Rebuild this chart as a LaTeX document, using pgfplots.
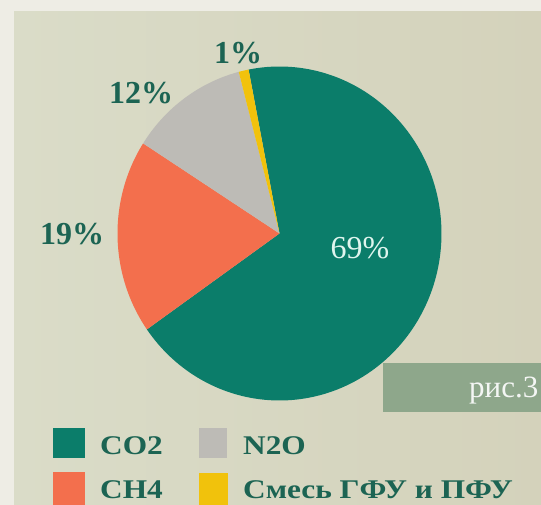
\documentclass[border=0pt]{standalone}
\usepackage{fontspec}
\setmainfont{Liberation Serif}
\newfontfamily\legfont[FakeStretch=1.16]{Liberation Serif}
\usepackage{pgfplots}
\usepackage{pgfplotstable}
\pgfplotsset{compat=1.18}

\definecolor{cgreen}{HTML}{0B7D6A}
\definecolor{corange}{HTML}{F36F4D}
\definecolor{cgray}{HTML}{BDBBB6}
\definecolor{cyellow}{HTML}{F1C20C}
\definecolor{ctext}{HTML}{1C6453}
\definecolor{cwhite}{HTML}{DFF5EE}
\definecolor{bgout}{HTML}{EEEDE5}
\definecolor{bgleft}{HTML}{DADCC8}
\definecolor{bgright}{HTML}{D4D2BB}
\definecolor{cbox}{HTML}{8EA78B}

\pgfplotstableread{
gas value
CO2 69
CH4 19
N2O 12
Mix 1
}\gases

\begin{document}
\begin{tikzpicture}
\pgfplotstablegetelem{0}{value}\of\gases \pgfmathsetmacro\vA{\pgfplotsretval}
\pgfplotstablegetelem{1}{value}\of\gases \pgfmathsetmacro\vB{\pgfplotsretval}
\pgfplotstablegetelem{2}{value}\of\gases \pgfmathsetmacro\vC{\pgfplotsretval}
\pgfplotstablegetelem{3}{value}\of\gases \pgfmathsetmacro\vD{\pgfplotsretval}
\pgfmathsetmacro\tot{\vA+\vB+\vC+\vD}
\pgfmathsetmacro\aA{101}
\pgfmathsetmacro\aB{\aA-360/\tot*\vA}
\pgfmathsetmacro\aC{\aB-360/\tot*\vB}
\pgfmathsetmacro\aD{\aC-360/\tot*\vC}
\pgfmathsetmacro\aE{\aD-360/\tot*\vD}
\begin{axis}[at={(0,0)}, anchor=south west, width=541pt, height=505pt,
  scale only axis, xmin=0, xmax=541, ymin=0, ymax=505, hide axis, clip=false]
\fill[bgout] (axis cs:0,0) rectangle (axis cs:541,505);
\shade[left color=bgleft, right color=bgright] (axis cs:14,0) rectangle (axis cs:541,493);
\addplot[fill=cgreen, draw=none, domain=\aB:\aA, samples=150]
  ({279.5+162*cos(x)},{271.5+167*sin(x)}) -- (axis cs:279.5,271.5) -- cycle;
\addplot[fill=corange, draw=none, domain=\aC:\aB, samples=60]
  ({279.5+162*cos(x)},{271.5+167*sin(x)}) -- (axis cs:279.5,271.5) -- cycle;
\addplot[fill=cgray, draw=none, domain=\aD:\aC, samples=40]
  ({279.5+162*cos(x)},{271.5+167*sin(x)}) -- (axis cs:279.5,271.5) -- cycle;
\addplot[fill=cyellow, draw=none, domain=\aE:\aD, samples=8]
  ({279.5+162*cos(x)},{271.5+167*sin(x)}) -- (axis cs:279.5,271.5) -- cycle;
% percentage labels
\node[text=ctext, font=\bfseries\fontsize{32}{32}\selectfont, inner sep=0] at (axis cs:238,452) {1\%};
\node[text=ctext, font=\bfseries\fontsize{32}{32}\selectfont, inner sep=0] at (axis cs:141,412) {12\%};
\node[text=ctext, font=\bfseries\fontsize{32}{32}\selectfont, inner sep=0] at (axis cs:72,271) {19\%};
\node[text=cwhite, font=\fontsize{32}{32}\selectfont, inner sep=0] at (axis cs:360,257) {69\%};
% figure tag
\fill[cbox] (axis cs:383,93) rectangle (axis cs:541,142);
\node[text=white!90!cbox, font=\fontsize{31}{31}\selectfont, inner sep=0, anchor=base west] at (axis cs:469,107) {рис.3};
% legend
\fill[cgreen] (axis cs:53,47) rectangle (axis cs:85,77);
\fill[corange] (axis cs:53,0) rectangle (axis cs:85,33);
\fill[cgray] (axis cs:199,47) rectangle (axis cs:227,77);
\fill[cyellow] (axis cs:199,0) rectangle (axis cs:228,32);
\node[text=ctext, font=\legfont\bfseries\fontsize{27}{27}\selectfont, inner sep=0, anchor=base west] at (axis cs:100,50) {CO2};
\node[text=ctext, font=\legfont\bfseries\fontsize{27}{27}\selectfont, inner sep=0, anchor=base west] at (axis cs:100,6) {CH4};
\node[text=ctext, font=\legfont\bfseries\fontsize{27}{27}\selectfont, inner sep=0, anchor=base west] at (axis cs:243,50) {N2O};
\node[text=ctext, font=\legfont\bfseries\fontsize{27}{27}\selectfont, inner sep=0, anchor=base west] at (axis cs:243,6) {Смесь ГФУ и ПФУ};
\end{axis}
\end{tikzpicture}
\end{document}
